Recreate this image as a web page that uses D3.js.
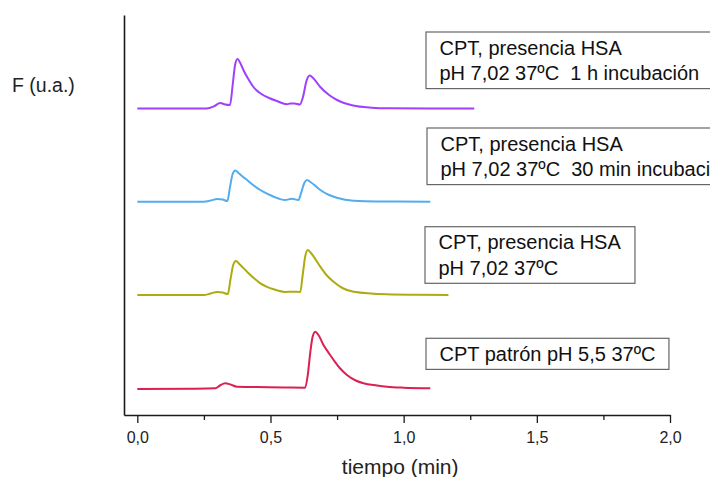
<!DOCTYPE html>
<html>
<head>
<meta charset="utf-8">
<script src="https://cdn.jsdelivr.net/npm/d3@7"></script>
<style>
  html, body { margin: 0; padding: 0; background: #fff; }
  svg { display: block; font-family: "Liberation Sans", Arial, sans-serif; }
</style>
</head>
<body>
<svg id="chart" width="710" height="477"></svg>
<script>
// Fluorescence traces (arbitrary units, vertically stacked) vs time in minutes
const seriesNames = ["hsa1h", "hsa30", "hsa", "patron"];

const timeHsa1h = [0, 0.26, 0.29, 0.311, 0.33, 0.348, 0.358, 0.367, 0.376, 0.39, 0.4, 0.419, 0.436, 0.463, 0.499, 0.524, 0.561, 0.575, 0.59, 0.61, 0.622, 0.635, 0.647, 0.66, 0.687, 0.72, 0.75, 0.81, 0.88, 0.94, 1.1, 1.265];
const fHsa1h    = [306.5, 306.5, 309, 312, 310.5, 310, 330, 350, 356, 350, 344, 335, 328, 321.5, 316.5, 314, 310.7, 311.5, 311.5, 310.5, 318, 334, 339.5, 337, 328, 320, 315, 309.5, 307.3, 306.7, 306.5, 306.5];

const timeHsa30 = [0, 0.25, 0.275, 0.3, 0.32, 0.338, 0.348, 0.358, 0.368, 0.38, 0.395, 0.412, 0.437, 0.462, 0.487, 0.512, 0.555, 0.58, 0.605, 0.615, 0.627, 0.637, 0.65, 0.667, 0.687, 0.72, 0.749, 0.812, 0.9, 1.1];
const fHsa30    = [213.3, 213.3, 214.5, 216, 215.5, 214, 228, 241, 244.5, 242, 238.5, 235, 229.5, 225, 221.3, 218.3, 215, 216.3, 215, 222, 232, 235, 233, 229.5, 225, 220, 217.3, 214.3, 213.5, 213.3];

const timeHsa = [0, 0.25, 0.275, 0.3, 0.32, 0.34, 0.35, 0.36, 0.37, 0.385, 0.412, 0.437, 0.462, 0.487, 0.512, 0.555, 0.58, 0.612, 0.62, 0.63, 0.64, 0.655, 0.687, 0.71, 0.737, 0.77, 0.812, 0.937, 1.05, 1.168];
const fHsa    = [120, 120, 121.5, 123, 122.5, 121, 136, 150, 154, 150.5, 143.3, 137, 131.7, 128.2, 125.7, 123, 123.3, 123, 138, 158, 165, 161, 148.3, 140, 133.3, 127, 123.3, 120.7, 120.2, 120];

const timePatron = [0, 0.2, 0.293, 0.31, 0.33, 0.35, 0.374, 0.45, 0.55, 0.63, 0.64, 0.649, 0.658, 0.668, 0.68, 0.699, 0.72, 0.737, 0.76, 0.787, 0.82, 0.849, 0.9, 0.937, 1.0, 1.1];
const fPatron    = [26, 26.3, 26.7, 29.5, 31.7, 30.5, 28.3, 28, 27.5, 27.3, 40, 61.7, 78, 83.3, 80, 70, 61.5, 55, 47, 40, 34.5, 31.7, 29.5, 28.3, 27.3, 26.7];

const seriesColors = ["#a040fc", "#52acee", "#acac12", "#dc2052"];

const legendLabels = [
  ["CPT, presencia HSA", "pH 7,02 37ºC  1 h incubación"],
  ["CPT, presencia HSA", "pH 7,02 37ºC  30 min incubación"],
  ["CPT, presencia HSA", "pH 7,02 37ºC"],
  ["CPT patrón pH 5,5 37ºC"]
];

const xTickValues = [0, 0.5, 1.0, 1.5, 2.0];
const xMinorTickValues = [0.25, 0.75, 1.25, 1.75];
const xTitle = "tiempo (min)";
const yTitle = "F (u.a.)";

// ---- layout ----
const svg = d3.select("#chart");
const plotLeft = 124, plotRight = 670, plotTop = 15, plotBottom = 415;

const x = d3.scaleLinear().domain([-0.05, 2]).range([plotLeft, plotRight]);
const y = d3.scaleLinear().domain([0, 400]).range([plotBottom, plotTop]);

const esLocale = d3.formatLocale({ decimal: ",", thousands: ".", grouping: [3], currency: ["", " €"] });
const fmt = esLocale.format(".1f");

const series = [
  { t: timeHsa1h, f: fHsa1h },
  { t: timeHsa30, f: fHsa30 },
  { t: timeHsa, f: fHsa },
  { t: timePatron, f: fPatron }
].map((s, i) => ({ name: seriesNames[i], color: seriesColors[i], pts: s.t.map((t, j) => [t, s.f[j]]) }));

const line = d3.line()
  .x(d => x(d[0]))
  .y(d => y(d[1]))
  .curve(d3.curveMonotoneX);

svg.append("g")
  .selectAll("path")
  .data(series)
  .join("path")
  .attr("fill", "none")
  .attr("stroke", d => d.color)
  .attr("stroke-width", 2)
  .attr("stroke-linejoin", "round")
  .attr("d", d => line(d.pts));

// ---- axes ----
const axisColor = "#1a1a1a";

const gxMinor = svg.append("g")
  .attr("transform", `translate(0,${plotBottom})`)
  .call(d3.axisBottom(x).tickValues(xMinorTickValues).tickSize(5).tickSizeOuter(0).tickFormat(""));
gxMinor.select(".domain").remove();
gxMinor.selectAll("line").attr("stroke", axisColor).attr("stroke-width", 1.3);

const gx = svg.append("g")
  .attr("transform", `translate(0,${plotBottom})`)
  .call(d3.axisBottom(x).tickValues(xTickValues).tickSize(8).tickSizeOuter(0).tickFormat(fmt));
gx.select(".domain").attr("stroke", axisColor).attr("stroke-width", 1.6);
gx.selectAll(".tick line").attr("stroke", axisColor).attr("stroke-width", 1.3);
gx.selectAll(".tick text")
  .attr("y", 28).attr("dy", null)
  .attr("font-size", 16)
  .attr("font-family", "Liberation Sans, Arial, sans-serif")
  .attr("fill", "#222");

const gy = svg.append("g")
  .attr("transform", `translate(${plotLeft},0)`)
  .call(d3.axisLeft(y).tickValues([]).tickSizeOuter(0));
gy.select(".domain").attr("stroke", axisColor).attr("stroke-width", 1.6);

svg.append("text")
  .attr("x", (x(0) + x(2)) / 2 - 3.5)
  .attr("y", 474)
  .attr("text-anchor", "middle")
  .attr("font-size", 21)
  .attr("fill", "#222")
  .text(xTitle);

svg.append("text")
  .attr("x", 12)
  .attr("y", 91.5)
  .attr("font-size", 19.5)
  .attr("fill", "#222")
  .text(yTitle);

// ---- framed labels beside each trace (the long ones run past the right edge) ----
const legendBoxes = [
  { x: 426, y: 32 },
  { x: 427, y: 128 },
  { x: 425, y: 226.7 },
  { x: 426, y: 338.3 }
];
const padX = 13.5, firstBase = 22.6, lineStep = 25.5, padBottom = 8.5;

legendLabels.forEach((lines, i) => {
  const b = legendBoxes[i];
  const g = svg.append("g");
  const rect = g.append("rect");
  const txt = g.append("text")
    .attr("font-size", 20)
    .attr("fill", "#111")
    .style("white-space", "pre");
  lines.forEach((s, k) => {
    txt.append("tspan")
      .attr("x", b.x + padX)
      .attr("y", b.y + firstBase + k * lineStep)
      .text(s);
  });
  const w = txt.node().getBBox().width + 2 * padX;
  const h = firstBase + (lines.length - 1) * lineStep + padBottom;
  rect.attr("x", b.x).attr("y", b.y)
    .attr("width", w).attr("height", h)
    .attr("fill", "#fff")
    .attr("stroke", "#666")
    .attr("stroke-width", 1.2);
});
</script>
</body>
</html>
